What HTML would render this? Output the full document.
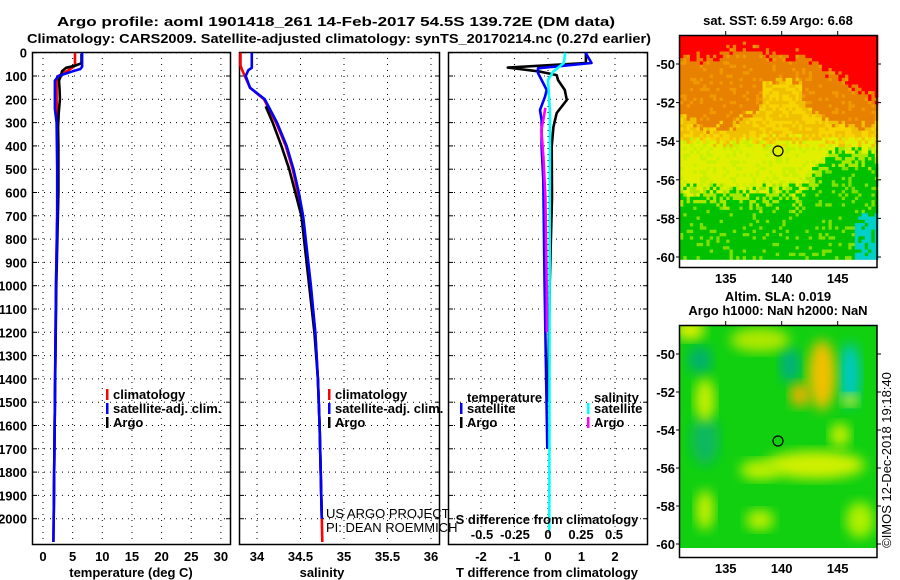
<!DOCTYPE html>
<html><head><meta charset="utf-8"><style>
html,body{margin:0;padding:0;background:#fff;}
svg{display:block;font-family:"Liberation Sans",sans-serif;}
.b{font-weight:bold;font-size:13px;fill:#000;}
</style></head><body>
<svg id="fig" width="900" height="580" viewBox="0 0 900 580" xmlns="http://www.w3.org/2000/svg">
<defs><filter id="blur" x="-20%" y="-20%" width="140%" height="140%"><feGaussianBlur stdDeviation="6"/></filter>
<clipPath id="clipA"><rect x="680" y="325" width="197" height="223"/></clipPath></defs>
<text class="b" x="57" y="26" font-size="14" textLength="558" lengthAdjust="spacingAndGlyphs">Argo profile: aoml 1901418_261 14-Feb-2017 54.5S 139.72E (DM data)</text>
<text class="b" x="27" y="43" font-size="14" textLength="624" lengthAdjust="spacingAndGlyphs">Climatology: CARS2009. Satellite-adjusted climatology: synTS_20170214.nc (0.27d earlier)</text>
<g id="panels"></g>
<g id="maps"></g>
</svg>
<script>
// ---- data ----
const depthTempClim=[0,50,60,80,100,120,200,300,500,700,1000,1500,2000,2100];
const tempClim=[5.4,5.4,5.2,4.0,2.6,2.3,2.3,2.4,2.5,2.4,2.2,2.0,1.8,1.75];
const depthTempSat=[0,60,70,80,100,120,240,300,500,700,1000,1500,2000,2100];
const tempSat=[6.6,6.6,6.3,5.0,2.6,2.0,2.0,2.3,2.4,2.4,2.2,2.0,1.8,1.75];
const depthTempArgo=[5,45,55,65,80,100,120,160,200,260,320,400,600,1000,1500,2000];
const tempArgo=[6.5,6.5,5.5,3.9,3.2,3.0,2.7,2.8,2.85,2.65,2.55,2.6,2.6,2.25,2.0,1.8];
const depthSalClim=[0,55,75,100,150,200,300,400,500,600,700,1000,1200,1400,1600,2000,2100];
const salClim=[33.81,33.81,33.83,33.86,33.92,34.08,34.22,34.33,34.41,34.47,34.52,34.61,34.67,34.70,34.72,34.745,34.75];
const depthSalSat=[0,65,75,100,150,200,300,400,500,600,700,1000,1200,1400,1600,2000];
const salSat=[33.94,33.94,33.9,33.87,33.92,34.09,34.23,34.34,34.42,34.48,34.53,34.62,34.67,34.70,34.72,34.745];
const depthSalArgo=[230,300,400,500,600,700,1000,1200,1400,1600,2000];
const salArgo=[34.1,34.18,34.28,34.37,34.44,34.51,34.60,34.66,34.70,34.72,34.745];
const depthDTArgo=[0,44,64,81,96,117,160,203,259,319,404,619,1000,1500];
const dTArgo=[1.13,1.13,-1.2,-0.24,0.26,0.3,0.5,0.56,0.26,0.16,0.11,0.12,0.05,0.0];
const depthDTSat=[0,44,67,87,117,160,189,246,289,404,547,1000,1700];
const dTSat=[1.12,1.3,-0.3,-0.3,-0.19,-0.04,-0.09,-0.24,-0.19,-0.19,-0.14,-0.1,-0.02];
const depthDSArgo=[237,333,447,619,1000,1200];
const dSArgo=[-0.02,-0.05,-0.035,-0.02,-0.01,-0.008];
const depthDSSat=[0,44,81,117,259,1000,2050];
const dSSat=[0.13,0.12,0.04,0.0,0.015,0.012,0.01];
const depthTicks=[0,100,200,300,400,500,600,700,800,900,1000,1100,1200,1300,1400,1500,1600,1700,1800,1900,2000];
const tempTicks=[0,5,10,15,20,25,30];
const salTicks=[34,34.5,35,35.5,36];
const dTTicks=[-2,-1,0,1,2];
const dSTicks=[-0.5,-0.25,0,0.25,0.5];
const dSTickLabels=["-0.5","-0.25","0","0.25","0.5"];
const latTicks=[-50,-52,-54,-56,-58,-60];
const lonTicks=[135,140,145];

const NS="http://www.w3.org/2000/svg";
const P=document.getElementById('panels');
function mk(tag,attrs,parent){const e=document.createElementNS(NS,tag);for(const k in attrs)e.setAttribute(k,attrs[k]);(parent||P).appendChild(e);return e;}
function txt(s,x,y,anchor,parent,cls,size){const t=mk('text',{x:x,y:y,'text-anchor':anchor||'start','class':cls||'b'},parent);if(size)t.setAttribute('font-size',size);t.textContent=s;return t;}
const yD=d=>52.7+d*0.233;
const xT=t=>43+t*5.93;
const xS=s=>257+(s-34)*87;
const xDT=v=>548+v*33.5;
const xDS=v=>548+v*132;
const TOP=52,BOT=545;

function panel(x0,x1,name,vTicks,xf){
  const g=mk('g',{});
  
  
  depthTicks.forEach(d=>{const y=yD(d);
    const l=mk('line',{x1:x0,x2:x1,y1:y,y2:y,stroke:'#000','stroke-width':1,'stroke-dasharray':'1,5'},g);
    
    mk('line',{x1:x0,x2:x0+5,y1:y,y2:y,stroke:'#000'},g);
    mk('line',{x1:x1-5,x2:x1,y1:y,y2:y,stroke:'#000'},g);});
  vTicks.forEach(v=>{const x=xf(v);
    const l=mk('line',{x1:x,x2:x,y1:TOP,y2:BOT,stroke:'#000','stroke-width':1,'stroke-dasharray':'1,5'},g);
    });
  const r=mk('rect',{x:x0+0.5,y:TOP+0.5,width:x1-x0-1,height:BOT-TOP-1,fill:'none',stroke:'#000','stroke-width':1.5},g);
  
  return g;
}
function line(g,xs,ds,xf,color,name){
  const pts=xs.map((v,i)=>xf(v).toFixed(1)+','+yD(ds[i]).toFixed(1)).join(' ');
  const l=mk('polyline',{points:pts,fill:'none',stroke:color,'stroke-width':2.6,'stroke-linejoin':'round'},g);
  
  
}
function legend(g,x,y,color,label,name){
  const r=mk('rect',{x:x-1,y:y-9,width:2.5,height:11,fill:color},g);
  
  const t=txt(label,x+6,y+1,'start',g,'b','12.5');
  
}

// Panel 1 temperature
const g1=panel(32,231,'temperature-panel',tempTicks,xT);
line(g1,tempClim,depthTempClim,xT,'#f00','temp-climatology-line');
line(g1,tempArgo,depthTempArgo,xT,'#000','temp-argo-line');
line(g1,tempSat,depthTempSat,xT,'#00f','temp-satellite-line');
depthTicks.forEach(d=>{const t=txt(String(d),27,yD(d)+5,'end',g1);});
tempTicks.forEach(v=>{const t=txt(String(v),xT(v),561,'middle',g1);});
{const t=txt('temperature (deg C)',131,577,'middle',g1,'b','13');}
legend(g1,107,398,'#f00','climatology','legend-climatology');
legend(g1,107,412,'#00f','satellite-adj. clim.','legend-satellite-adj');
legend(g1,107,426,'#000','Argo','legend-argo');

// Panel 2 salinity
const g2=panel(239,440,'salinity-panel',salTicks,xS);
line(g2,salClim,depthSalClim,xS,'#f00','sal-climatology-line');
line(g2,salArgo,depthSalArgo,xS,'#000','sal-argo-line');
line(g2,salSat,depthSalSat,xS,'#00f','sal-satellite-line');
salTicks.forEach(v=>{const t=txt(String(v),xS(v),561,'middle',g2);});
{const t=txt('salinity',322,577,'middle',g2,'b','13');}
legend(g2,329,398,'#f00','climatology','legend-climatology');
legend(g2,329,412,'#00f','satellite-adj. clim.','legend-satellite-adj');
legend(g2,329,426,'#000','Argo','legend-argo');
{const t=txt('US ARGO PROJECT',326,518,'start',g2,'','12.5');t.setAttribute('style','font-weight:normal');
 const t2=txt('PI: DEAN ROEMMICH',326,532,'start',g2,'','12.5');t2.setAttribute('style','font-weight:normal');}

// Panel 3 differences
const g3=panel(448,648,'difference-panel',dTTicks,xDT);
line(g3,dTArgo,depthDTArgo,xDT,'#000','dT-argo-line');
line(g3,dTSat,depthDTSat,xDT,'#00f','dT-satellite-line');
line(g3,dSArgo,depthDSArgo,xDS,'#f0f','dS-argo-line');
line(g3,dSSat,depthDSSat,xDS,'#0ff','dS-satellite-line');
dTTicks.forEach(v=>{const t=txt(String(v),xDT(v),561,'middle',g3);});
dSTicks.forEach((v,i)=>{const t=txt(dSTickLabels[i],xDS(v),539,'middle',g3);});
{const t=txt('S difference from climatology',547,524,'middle',g3,'b','13');}
{const t=txt('T difference from climatology',547,577,'middle',g3,'b','13');}
{const t=txt('temperature',467,402,'start',g3,'b','12.5');}
legend(g3,461,412,'#00f','satellite','legend-t-satellite');
legend(g3,461,426,'#000','Argo','legend-t-argo');
{const t=txt('salinity',594,402,'start',g3,'b','12.5');}
legend(g3,588,412,'#0ff','satellite','legend-s-satellite');
legend(g3,588,426,'#f0f','Argo','legend-s-argo');

// ---- maps ----
const M=document.getElementById('maps');
const lonX=l=>781.7+(l-140)*11.2;
function hash(i,j){let h=(i*374761393+j*668265263)>>>0;h=((h^(h>>>13))*1274126177)>>>0;return ((h^(h>>>16))>>>0)/4294967295;}
function mapFrame(y0,y1,name,latY){
  const g=mk('g',{},M);
  
  const r=mk('rect',{x:679.5,y:y0+0.5,width:197.5,height:y1-y0,fill:'none',stroke:'#000','stroke-width':1.5},g);
  
  latTicks.forEach(l=>{const y=latY(l);mk('line',{x1:877,x2:881,y1:y,y2:y,stroke:'#000'},g);
    mk('line',{x1:676,x2:679,y1:y,y2:y,stroke:'#000'},g);
    const t=txt(String(l),675,y+5,'end',g,'b','13');});
  lonTicks.forEach(l=>{const x=lonX(l);mk('line',{x1:x,x2:x,y1:y0-4,y2:y0,stroke:'#000'},g);
    const t=txt(String(l),x,y1+16,'middle',g,'b','13');});
  return g;
}
// SST map
const gS=mk('g',{},M);

{
  const cw=3.3,ch=3.3;
  for(let j=0;j*ch<223;j++)for(let i=0;i*cw<197;i++){
    const cx=680+i*cw,cy=35+j*ch;
    const n=(hash(i,j)-0.5)*14, n2=(hash(j+7,i+3)-0.5)*14;
    const redB = cx<795 ? 52+6*Math.sin((cx-680)/14) : 52+(cx-795)/82*45;
    const orB = 112+14*Math.sin((cx-680)/22)+ (cx>760&&cx<800?-20:0);
    const goldB = 140;
    const yelB = cx<800 ? 188 : Math.max(148,188-(cx-800)*1.4);
    const ygB = yelB+16;
    const cyB = cx>852 ? 215 : 999;
    const y=cy+n;
    let c;
    if(y<redB) c='#ff0000';
    else if(y<orB) c= hash(i+11,j)>0.85?'#f09800':'#e88000';
    else if(y<goldB) c= hash(i,j+5)>0.5?'#f0c000':'#f8d400';
    else if(y<yelB) c= hash(i+3,j+1)>0.75?'#c8f000':'#e0f000';
    else if(cy+n2<ygB) c= hash(i+1,j+9)>0.5?'#a8e800':'#00c800';
    else if(cy+n2<cyB) c= hash(i+5,j+2)>0.85?'#7ee000':'#00c000';
    else c= hash(i+2,j+4)>0.85?'#00c000':'#00d0c8';
    mk('rect',{x:cx.toFixed(1),y:cy.toFixed(1),width:cw+0.4,height:ch+0.4,fill:c},gS);
  }
}
mapFrame(35,267,'sst-map-axes',l=>64+(-50-l)*19.3);
{const c=mk('circle',{cx:778,cy:151,r:5,fill:'none',stroke:'#000','stroke-width':1.2},M);}
{const t=txt('sat. SST: 6.59 Argo: 6.68',778,25,'middle',M,'b','12.5');}
// SLA map
const gA=mk('g',{'clip-path':'url(#clipA)'},M);

mk('rect',{x:680,y:325,width:197,height:223,fill:'#10d010'},gA);
const blobs=[[700,360,12,14,'#00b070'],[790,365,10,18,'#00b080'],[705,440,14,25,'#10b860'],[850,375,10,32,'#00c8c8'],[822,375,14,35,'#f0c000'],[800,395,10,12,'#f0b000'],[705,400,10,22,'#c8f000'],[690,330,15,10,'#e0f000'],[760,340,30,12,'#b0e800'],[815,465,50,14,'#d0f000'],[760,470,20,10,'#c0f000'],[705,510,9,20,'#c8f000'],[760,520,14,10,'#c0f000'],[860,520,14,18,'#b0f000'],[840,435,10,12,'#c8f000'],[850,400,8,6,'#e8f000']];
blobs.forEach(b=>{mk('ellipse',{cx:b[0],cy:b[1],rx:b[2],ry:b[3],fill:b[4],filter:'url(#blur)'},gA);});
mapFrame(325,557,'sla-map-axes',l=>354+(-50-l)*19.0);
{const c=mk('circle',{cx:778,cy:441,r:5,fill:'none',stroke:'#000','stroke-width':1.2},M);}
{const t=txt('Altim. SLA: 0.019',778,301,'middle',M,'b','12.5');
 const t2=txt('Argo h1000: NaN h2000: NaN',778,315,'middle',M,'b','12.5');}
{const t=txt('©IMOS 12-Dec-2018 19:18:40',0,0,'middle',M,'','12');t.setAttribute('style','font-weight:normal');t.setAttribute('transform','translate(891,460) rotate(-90)');}
</script>
</body></html>
